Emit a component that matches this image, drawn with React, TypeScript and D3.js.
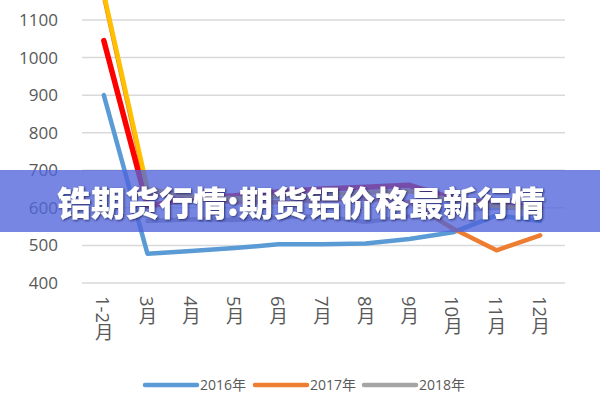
import React from "react";
import * as d3 from "d3";

const categories = ["1-2月", "3月", "4月", "5月", "6月", "7月", "8月", "9月", "10月", "11月", "12月"];
const yTicks = [400, 500, 600, 700, 800, 900, 1000, 1100];
const s2016 = [900, 478, 485, 493, 503, 503, 505, 517, 535, 580, 565];
const s2017 = [1165, 640, 625, 615, 615, 620, 625, 615, 545, 487, 527];
const s2018: (number | null)[] = [null, 565, 570, 568, 575, 578, 562, 578, 592, 600, 600];
const sRed = [1045, 605, 625, 632, 642, 650, 655, 660, 625, 610, 600];
const sYellow = [1170, 650, 630, 625, 630, 635, 640, 645, 620, 605, 598];
const legendItems = ["2016年", "2017年", "2018年"];
const title = "锆期货行情:期货铝价格最新行情";

export default function App() {
  const W = 600, H = 400;
  const x = d3.scaleBand<string>().domain(categories).range([82, 562]);
  const y = d3.scaleLinear().domain([400, 1100]).range([283, 20]);
  const cx = (i: number) => (x(categories[i]) as number) + x.bandwidth() / 2;
  const line = d3
    .line<number | null>()
    .defined((d) => d !== null)
    .x((_, i) => cx(i))
    .y((d) => y(d as number));

  const series = [
    { data: s2016, color: "#5B9BD5", w: 4.5 },
    { data: s2018, color: "#A5A5A5", w: 4.5 },
    { data: s2017, color: "#ED7D31", w: 4.5 },
    { data: sRed, color: "#FF0000", w: 5.5 },
    { data: sYellow, color: "#FFC000", w: 4.5 },
  ];
  const legendColors = ["#5B9BD5", "#ED7D31", "#A5A5A5"];
  const legendX = [145, 255, 364];

  return (
    <svg width={W} height={H} style={{ position: "absolute", left: 0, top: 0, background: "#fff" }}>
      <defs>
        <clipPath id="plot">
          <rect x={0} y={0} width={W} height={300} />
        </clipPath>
        <filter id="shadow" x="-10%" y="-30%" width="120%" height="160%">
          <feDropShadow dx="1" dy="1" stdDeviation="1.2" floodColor="#1a1a4a" floodOpacity="0.8" />
        </filter>
      </defs>
      {yTicks.map((t) => (
        <g key={t}>
          <line x1={82} x2={565} y1={y(t)} y2={y(t)} stroke="#D9D9D9" strokeWidth={1.5} />
          <text
            x={58}
            y={y(t)}
            dy="0.35em"
            textAnchor="end"
            fontFamily="'Open Sans', 'Liberation Sans', sans-serif"
            fontSize={17}
            fill="#595959"
          >
            {t}
          </text>
        </g>
      ))}
      <g clipPath="url(#plot)">
        {series.map((s, i) => (
          <path
            key={i}
            d={line(s.data) || ""}
            fill="none"
            stroke={s.color}
            strokeWidth={s.w}
            strokeLinejoin="round"
            strokeLinecap="round"
          />
        ))}
      </g>
      {categories.map((c, i) => (
        <text
          key={c}
          x={cx(i)}
          y={296}
          style={{ writingMode: "vertical-rl" }}
          fontFamily="'Open Sans', 'Noto Sans CJK SC', sans-serif"
          fontSize={18.5}
          fill="#595959"
        >
          {c}
        </text>
      ))}
      {legendItems.map((l, i) => (
        <g key={l}>
          <line
            x1={legendX[i]}
            x2={legendX[i] + 52}
            y1={385}
            y2={385}
            stroke={legendColors[i]}
            strokeWidth={4.5}
            strokeLinecap="round"
          />
          <text
            x={legendX[i] + 55}
            y={385}
            dy="0.35em"
            fontFamily="'Open Sans', 'Noto Sans CJK SC', sans-serif"
            fontSize={14}
            fill="#595959"
          >
            {l}
          </text>
        </g>
      ))}
      <rect x={0} y={170} width={W} height={62} fill="rgb(80,100,218)" opacity={0.78} />
      <text
        x={301}
        y={201}
        textAnchor="middle"
        dominantBaseline="central"
        fontFamily="'Noto Sans CJK SC', sans-serif"
        fontWeight={900}
        fontSize={34}
        fill="#fff"
        filter="url(#shadow)"
      >
        {title}
      </text>
    </svg>
  );
}
